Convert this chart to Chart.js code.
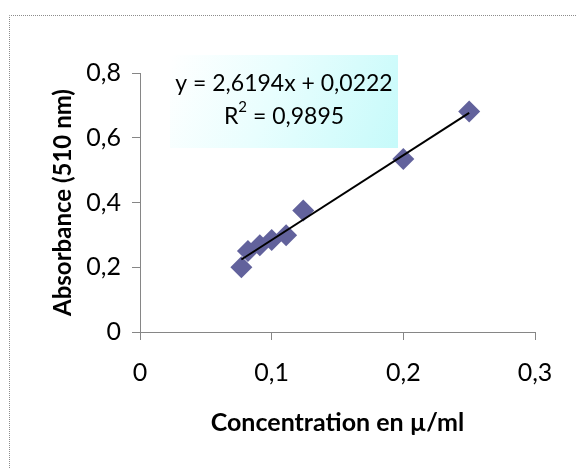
<!DOCTYPE html>
<html>
<head>
<meta charset="utf-8">
<script src="https://cdn.jsdelivr.net/npm/chart.js@4"></script>
<style>
  html, body { margin: 0; padding: 0; background: #fff; }
  #wrap { width: 576px; height: 468px; }
</style>
</head>
<body>
<div id="wrap"><canvas id="absChart" width="576" height="468"></canvas></div>
<script>
const concentration = [0.077, 0.082, 0.091, 0.1, 0.111, 0.124, 0.2, 0.25];
const absorbance = [0.2, 0.25, 0.268, 0.284, 0.299, 0.375, 0.534, 0.681];
const trendX = [0.077, 0.25];
const trendY = [0.224, 0.677];
const equationText = "y = 2,6194x + 0,0222";
const r2Value = "0,9895";

const FONT = "Lato, 'DejaVu Sans', sans-serif";
const AXIS_GREY = "#868686";

const fmt = (v) => String(Number(v.toFixed(2))).replace(".", ",");

// cadre pointillé + encadré de l'équation
const decorations = {
  id: "decorations",
  beforeDraw(chart) {
    const ctx = chart.ctx;
    ctx.save();
    ctx.strokeStyle = "#8c8c8c";
    ctx.lineWidth = 1;
    ctx.setLineDash([1, 1]);
    ctx.beginPath();
    ctx.moveTo(9.5, 468);
    ctx.lineTo(9.5, 15.5);
    ctx.lineTo(576, 15.5);
    ctx.stroke();
    ctx.restore();
  },
  afterDatasetsDraw(chart) {
    const ctx = chart.ctx;
    const x0 = 170, y0 = 55, w = 228, h = 93;
    ctx.save();
    const grad = ctx.createLinearGradient(x0, y0, x0 + w, y0 + h);
    grad.addColorStop(0, "#ffffff");
    grad.addColorStop(0.45, "#e8fefe");
    grad.addColorStop(1, "#c6fafa");
    ctx.fillStyle = grad;
    ctx.fillRect(x0, y0, w, h);

    const cx = x0 + w / 2;
    ctx.fillStyle = "#000";
    ctx.textBaseline = "alphabetic";
    ctx.font = "23px " + FONT;
    ctx.textAlign = "center";
    ctx.fillText(equationText, cx, 91);

    // R² avec exposant
    ctx.textAlign = "left";
    const big = "23px " + FONT, small = "15px " + FONT;
    ctx.font = big;
    const wR = ctx.measureText("R").width;
    const rest = " = " + r2Value;
    const wRest = ctx.measureText(rest).width;
    ctx.font = small;
    const w2 = ctx.measureText("2").width;
    let x = cx - (wR + w2 + wRest) / 2;
    ctx.font = big;
    ctx.fillText("R", x, 124);
    x += wR;
    ctx.font = small;
    ctx.fillText("2", x, 112);
    x += w2;
    ctx.font = big;
    ctx.fillText(rest, x, 124);
    ctx.restore();
  },
};

const ctx = document.getElementById("absChart").getContext("2d");
new Chart(ctx, {
  type: "scatter",
  data: {
    datasets: [
      {
        label: "Absorbance",
        data: concentration.map((c, i) => ({ x: c, y: absorbance[i] })),
        pointStyle: "rectRot",
        pointRadius: 11,
        pointHoverRadius: 11,
        backgroundColor: "#62629c",
        borderColor: "#62629c",
        borderWidth: 0,
        order: 2,
      },
      {
        type: "line",
        label: "Linéaire",
        data: trendX.map((c, i) => ({ x: c, y: trendY[i] })),
        borderColor: "#000",
        borderWidth: 2,
        pointRadius: 0,
        fill: false,
        order: 1,
      },
    ],
  },
  options: {
    responsive: false,
    animation: false,
    layout: {
      padding: { top: 73, right: 41, left: 0, bottom: 0 },
    },
    plugins: {
      legend: { display: false },
      tooltip: { enabled: false },
    },
    scales: {
      x: {
        type: "linear",
        min: 0,
        max: 0.3,
        afterFit(scale) {
          scale.height = 136;
        },
        ticks: {
          stepSize: 0.1,
          padding: 18,
          color: "#000",
          font: { family: FONT, size: 25 },
          callback: (v) => fmt(v),
        },
        grid: {
          drawOnChartArea: false,
          drawTicks: true,
          tickLength: 8,
          color: AXIS_GREY,
        },
        border: { color: AXIS_GREY, width: 1 },
        title: {
          display: true,
          text: "Concentration en µ/ml",
          color: "#000",
          font: { family: FONT, size: 25, weight: "bold" },
          padding: { top: 0, bottom: 30 },
        },
      },
      y: {
        type: "linear",
        min: 0,
        max: 0.8,
        afterFit(scale) {
          scale.width = 140;
        },
        ticks: {
          stepSize: 0.2,
          padding: 11,
          color: "#000",
          font: { family: FONT, size: 25 },
          callback: (v) => fmt(v),
        },
        grid: {
          drawOnChartArea: false,
          drawTicks: true,
          tickLength: 8,
          color: AXIS_GREY,
        },
        border: { color: AXIS_GREY, width: 1 },
        title: {
          display: true,
          text: "Absorbance (510 nm)",
          color: "#000",
          font: { family: FONT, size: 24, weight: "bold" },
          padding: { top: 49, bottom: 0 },
        },
      },
    },
  },
  plugins: [decorations],
});
</script>
</body>
</html>
